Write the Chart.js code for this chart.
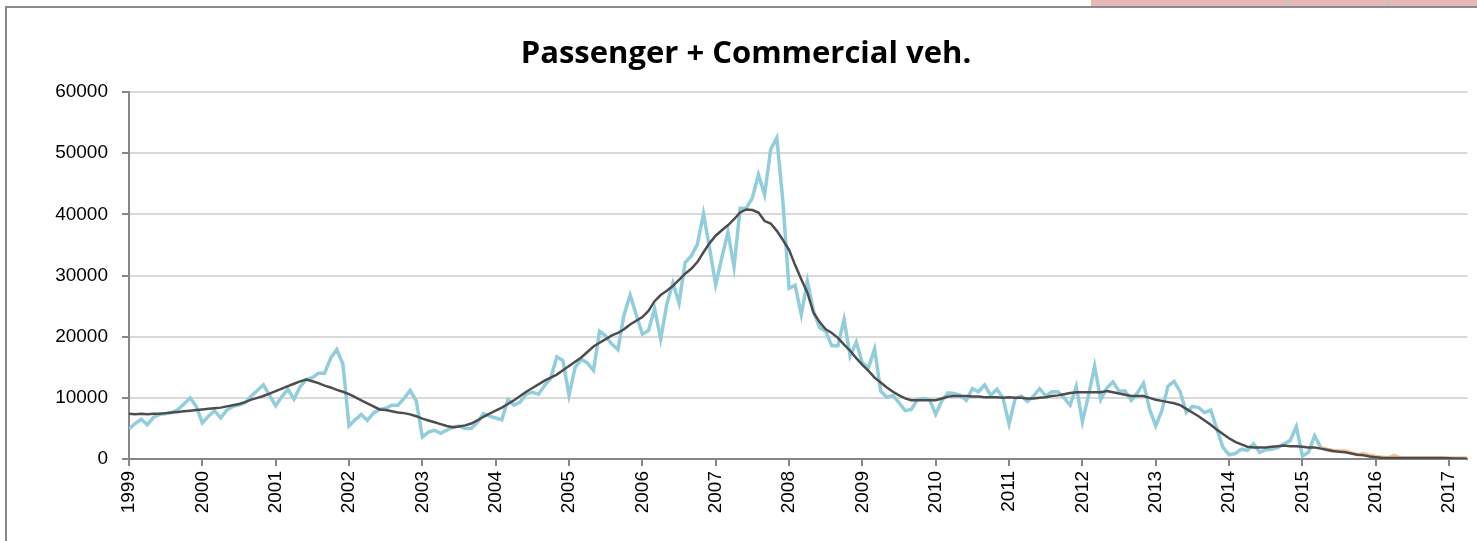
<!DOCTYPE html>
<html>
<head>
<meta charset="utf-8">
<script src="https://cdn.jsdelivr.net/npm/chart.js@4.4.1/dist/chart.umd.min.js"></script>
<style>
  html, body { margin: 0; padding: 0; background: #fff; width: 1477px; height: 541px; overflow: hidden; }
  #frame { position: absolute; left: 5px; top: 6px; width: 1500px; height: 600px; border-top: 2px solid #8a8a8a; border-left: 2px solid #8a8a8a; }
  #pink { position: absolute; left: 1091px; top: 0; width: 386px; height: 6px; background: #e6b8b7; }
  .div { position: absolute; top: 0; width: 3px; height: 6px; background: #c4c4c4; }
  #wrap { position: absolute; left: 0; top: 0; width: 1477px; height: 541px; }
</style>
</head>
<body>
<div id="pink"></div>
<div class="div" style="left:1287px"></div>
<div class="div" style="left:1386px"></div>
<div id="frame"></div>
<div id="wrap"><canvas id="c" width="1477" height="541"></canvas></div>
<script>
const chartTitle = 'Passenger + Commercial veh.';
const yearLabels = ['1999','2000','2001','2002','2003','2004','2005','2006','2007','2008','2009','2010','2011','2012','2013','2014','2015','2016','2017'];
const yTicks = [0, 10000, 20000, 30000, 40000, 50000, 60000];
const monthCount = 220; // Jan 1999 .. Apr 2017

// Monthly values (blue series), starting Jan 1999
const blueStart = 0;
const blueValues = [
  4900, 5800, 6500, 5600, 6800, 7300, 7400, 7600, 8100, 9000, 10000, 8600,
  5900, 7000, 7900, 6700, 8000, 8600, 8800, 9200, 10300, 11200, 12150, 10400,
  8700, 10200, 11400, 9800, 11800, 13000, 13300, 14000, 14000, 16500, 17900, 15500,
  5400, 6400, 7300, 6300, 7500, 8100, 8300, 8800, 8800, 9900, 11200, 9500,
  3600, 4400, 4700, 4200, 4700, 5200, 5400, 5000, 5000, 6000, 7400, 7000,
  6700, 6400, 9700, 8800, 9300, 10600, 10900, 10600, 12000, 13200, 16700, 16100,
  10400, 15000, 16300, 15700, 14500, 20900, 20100, 18800, 17900, 23600, 26800, 23600,
  20400, 21000, 24600, 19600, 25300, 28800, 25500, 32100, 33200, 35100, 40100, 34500,
  28500, 32900, 37100, 31400, 41000, 41000, 42700, 46500, 43200, 50600, 52500, 42000,
  27900, 28400, 23600, 29100, 24200, 21500, 20900, 18500, 18500, 22800, 16800, 19100,
  15700, 14900, 18000, 11100, 10100, 10400, 9200, 7900, 8100, 9700, 9900, 9700,
  7300, 9500, 10800, 10700, 10400, 9600, 11500, 11000, 12100, 10400, 11400, 10000,
  5700, 9900, 10300, 9400, 10300, 11500, 10300, 11000, 11000, 10000, 8800, 11900,
  6100, 10400, 15200, 9700, 11600, 12600, 11100, 11100, 9600, 10800, 12400, 8100,
  5400, 7900, 11900, 12700, 11000, 7600, 8600, 8400, 7600, 8000, 4900, 1900,
  700, 900, 1600, 1400, 2500, 1100, 1500, 1600, 1900, 2500, 3000, 5300,
  500, 1100, 3800, 1900, 1500, 1300
];

// Orange series, starting Apr 2015
const orangeStart = 195;
const orangeValues = [
  1900, 1600, 1400, 1300, 1300, 1000, 700, 900, 600,
  400, 300, 200, 600, 200, 150, 150, 150, 150, 150, 150, 150,
  150, 150, 150, 150
];

// Moving average (dark line), starting Jan 1999
const avgStart = 0;
const avgValues = [
  7400, 7300, 7400, 7300, 7400, 7400, 7500, 7600, 7700, 7800, 7900, 8000,
  8100, 8200, 8300, 8400, 8600, 8800, 9000, 9300, 9700, 10000, 10300, 10700,
  11100, 11500, 11900, 12300, 12700, 13000, 12700, 12400, 12000, 11700, 11300, 11000,
  10600, 10100, 9600, 9100, 8600, 8100, 8000, 7800, 7600, 7500, 7300, 7000,
  6600, 6300, 6000, 5700, 5400, 5200, 5300, 5500, 5800, 6300, 6900, 7400,
  7900, 8400, 9000, 9600, 10300, 11000, 11600, 12200, 12800, 13300, 13800, 14500,
  15200, 15900, 16600, 17500, 18400, 19000, 19600, 20200, 20600, 21200, 22000, 22600,
  23200, 24200, 25800, 26800, 27500, 28300, 29300, 30300, 31100, 32200, 33800, 35300,
  36500, 37400, 38200, 39200, 40300, 40800, 40700, 40300, 38900, 38500, 37300, 35800,
  34200, 31700, 29400, 27200, 23900, 22400, 21200, 20600, 19800, 18700, 17700, 16500,
  15400, 14400, 13300, 12500, 11700, 11000, 10400, 9900, 9600, 9600, 9600, 9600,
  9600, 9900, 10200, 10300, 10300, 10300, 10200, 10200, 10100, 10100, 10100, 10000,
  10100, 10000, 10000, 9900, 9900, 10000, 10100, 10300, 10400, 10600, 10800, 10900,
  10900, 10900, 10900, 10900, 11100, 10900, 10700, 10500, 10300, 10300, 10300, 10000,
  9700, 9500, 9300, 9100, 8800, 8200, 7600, 7000, 6300, 5600, 4800, 4100,
  3400, 2800, 2400, 2000, 1900, 1900, 1900, 2000, 2100, 2200, 2100, 2100,
  2000, 1900, 1900, 1700, 1500, 1300, 1200, 1100, 900, 700, 600, 400,
  300, 200, 150, 150, 150, 150, 150, 150, 150, 150, 150, 150,
  120, 100, 80, 50
];

function toPoints(start, values) {
  return values.map((v, i) => ({ x: start + i, y: v }));
}

const axisGray = '#868686';
const tickFont = { family: "'Liberation Sans', Arial, sans-serif", size: 19 };

new Chart(document.getElementById('c'), {
  type: 'line',
  data: {
    datasets: [
      { label: 'Moving average', data: toPoints(avgStart, avgValues), borderColor: '#4d4d4d', borderWidth: 2.5, pointRadius: 0, tension: 0, fill: false },
      { label: 'Orange', data: toPoints(orangeStart, orangeValues), borderColor: '#fac090', borderWidth: 3.5, pointRadius: 0, tension: 0, fill: false },
      { label: 'Passenger + Commercial veh.', data: toPoints(blueStart, blueValues), borderColor: '#92cddc', borderWidth: 3.5, pointRadius: 0, tension: 0, fill: false }
    ]
  },
  options: {
    responsive: false,
    devicePixelRatio: 1,
    animation: false,
    layout: { padding: { left: 24, right: 9, top: 0, bottom: 0 } },
    plugins: {
      legend: { display: false },
      tooltip: { enabled: false },
      title: {
        display: true,
        text: chartTitle,
        color: '#000',
        font: { family: "'Open Sans', Lato, sans-serif", weight: 'bold', size: 31 },
        padding: { top: 36, bottom: 18.8 }
      }
    },
    scales: {
      x: {
        type: 'linear',
        min: 0,
        max: monthCount - 1,
        afterFit: s => { s.height = 82; },
        border: { color: axisGray, width: 2 },
        grid: { drawOnChartArea: false, color: axisGray, tickColor: axisGray, tickLength: 7, lineWidth: 2 },
        ticks: {
          stepSize: 12,
          includeBounds: false,
          autoSkip: false,
          maxRotation: 90,
          minRotation: 90,
          padding: 5,
          color: '#000',
          font: tickFont,
          callback: v => yearLabels[v / 12] || ''
        }
      },
      y: {
        min: 0,
        max: 60000,
        afterFit: s => { s.width = 105; },
        border: { color: axisGray, width: 2 },
        grid: { color: '#d9d9d9', tickColor: axisGray, tickLength: 7, lineWidth: 2 },
        ticks: {
          stepSize: 10000,
          padding: 14,
          color: '#000',
          font: tickFont,
          callback: v => (yTicks.includes(v) ? String(v) : '')
        }
      }
    }
  }
});
</script>
</body>
</html>
